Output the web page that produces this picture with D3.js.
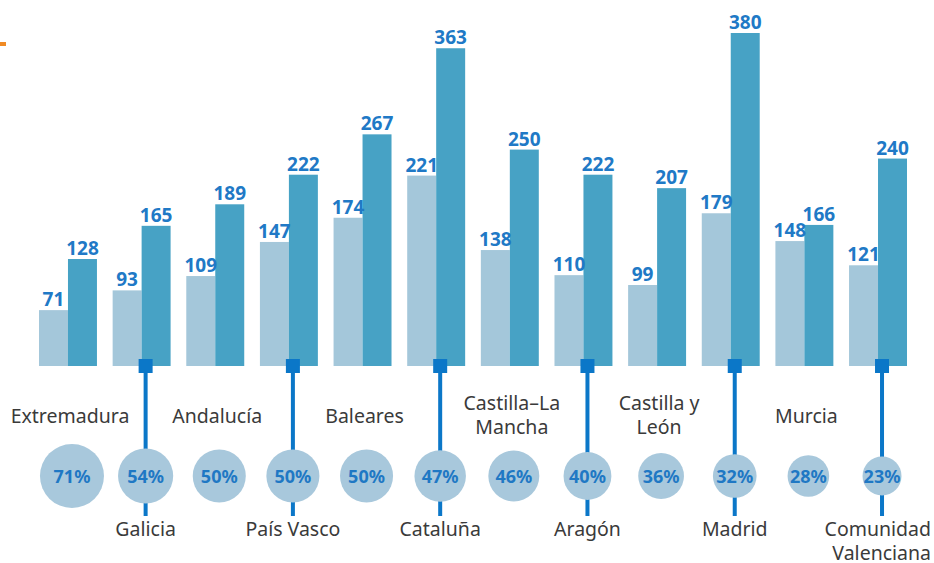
<!DOCTYPE html>
<meta charset="utf-8">
<script src="https://d3js.org/d3.v7.min.js"></script>
<style>
body {
    margin: 0;
    background: white;
}
.value {
    font-family: "Noto Sans", sans-serif;
    font-weight: 700;
    font-size: 19px;
    fill: #2079c6;
    text-anchor: middle;
}
.pct {
    font-family: "Noto Sans", sans-serif;
    font-weight: 700;
    font-size: 18px;
    fill: #1f78c4;
    text-anchor: middle;
}
.region {
    font-family: "Noto Sans", sans-serif;
    font-size: 19.5px;
    fill: #3a3a3a;
    text-anchor: middle;
}
</style>
<body>
<svg width="934" height="563" id="svg"></svg>
<script>
    var regions = ["Extremadura", "Galicia", "Andalucía", "País Vasco", "Baleares", "Cataluña",
        "Castilla–La\nMancha", "Aragón", "Castilla y\nLeón", "Madrid", "Murcia", "Comunidad\nValenciana"];
    var series = ["antes", "ahora"];
    var before = [71, 93, 109, 147, 174, 221, 138, 110, 99, 179, 148, 121];
    var after = [128, 165, 189, 222, 267, 363, 250, 222, 207, 380, 166, 240];
    var percent = [71, 54, 50, 50, 50, 47, 46, 40, 36, 32, 28, 23];

    var colors = d3.scaleOrdinal().domain(series).range(["#a4c7da", "#47a2c5"]);
    var lineColor = "#0b77c8";

    let svg = d3.select("#svg");
    let baseY = 366;

    // small orange mark left over from the page header
    svg.append("rect")
        .attr("x", 0).attr("y", 42)
        .attr("width", 6).attr("height", 4)
        .attr("fill", "#f08a24");

    let x0 = d3.scaleBand()
        .domain(regions)
        .range([39, 907])
        .paddingInner(0.213);

    let x1 = d3.scaleBand()
        .domain(series)
        .range([0, x0.bandwidth()]);

    let y = d3.scaleLinear()
        .domain([8.7, 380])
        .range([baseY, 33]);

    let r = d3.scaleLinear()
        .domain([0, 71])
        .range([13.5, 32]);

    let data = regions.map(function(d, i) {
        return { name: d, i: i, pct: percent[i],
            values: [{ key: "antes", v: before[i] }, { key: "ahora", v: after[i] }] };
    });

    let groups = svg.append("g")
        .selectAll("g")
        .data(data)
        .enter().append("g")
        .attr("transform", function(d) { return "translate(" + x0(d.name) + ",0)"; });

    groups.selectAll("rect")
        .data(function(d) { return d.values; })
        .enter().append("rect")
        .attr("x", function(d) { return x1(d.key); })
        .attr("y", function(d) { return y(d.v); })
        .attr("width", x1.bandwidth())
        .attr("height", function(d) { return baseY - y(d.v); })
        .attr("fill", function(d) { return colors(d.key); });

    groups.selectAll("text.value")
        .data(function(d) { return d.values; })
        .enter().append("text")
        .attr("class", "value")
        .attr("x", function(d) { return x1(d.key) + x1.bandwidth() / 2; })
        .attr("y", function(d) { return y(d.v) - 4; })
        .text(function(d) { return d.v; });

    // lower part: circles, connectors and region names
    let cx = function(d) { return x0.bandwidth() / 2 + 4; };
    let cy = 476;

    let lower = groups.filter(function(d) { return d.i % 2 == 1; });

    lower.append("line")
        .attr("x1", cx).attr("x2", cx)
        .attr("y1", baseY).attr("y2", 516)
        .attr("stroke", lineColor)
        .attr("stroke-width", 4);

    lower.append("rect")
        .attr("x", function(d) { return cx(d) - 7; })
        .attr("y", baseY - 7)
        .attr("width", 14).attr("height", 14)
        .attr("fill", lineColor);

    groups.append("circle")
        .attr("cx", cx)
        .attr("cy", cy)
        .attr("r", function(d) { return r(d.pct); })
        .attr("fill", "#a8c8dc");

    groups.append("text")
        .attr("class", "pct")
        .attr("x", cx)
        .attr("y", cy + 7)
        .text(function(d) { return d.pct + "%"; });

    // one text per line so the names wrap like the original
    groups.each(function(d) {
        let g = d3.select(this);
        let lines = d.name.split("\n");
        let below = d.i % 2 == 1;
        let startY = below ? 536 : (lines.length > 1 ? 410 : 423);
        let xx = below ? cx(d) : x0.bandwidth() / 2 + 2;
        lines.forEach(function(l, k) {
            let t = g.append("text")
                .attr("class", "region")
                .attr("x", xx)
                .attr("y", startY + k * 24)
                .text(l);
            // keep the name inside the right edge of the page
            let half = t.node().getComputedTextLength() / 2;
            let right = x0(d.name) + xx + half;
            if (right > 931) t.attr("x", xx - (right - 931));
        });
    });
</script>
</body>
